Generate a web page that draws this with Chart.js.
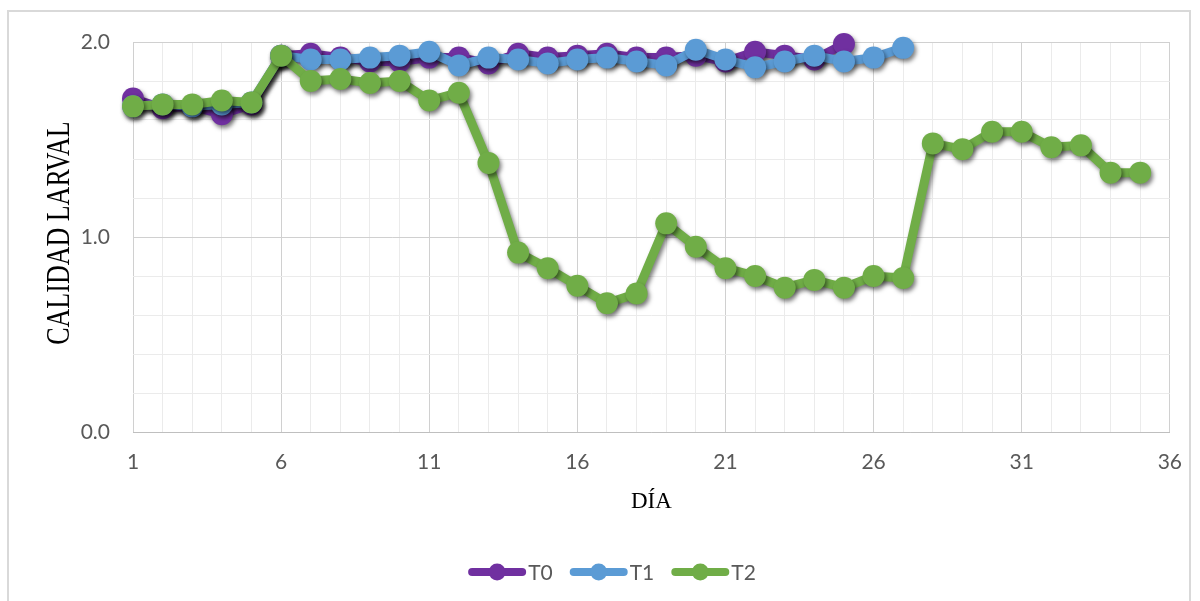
<!DOCTYPE html>
<html lang="es">
<head>
<meta charset="utf-8">
<title>Calidad larval por día</title>
<script src="https://cdn.jsdelivr.net/npm/chart.js@4.4.1/dist/chart.umd.min.js"></script>
<style>
  html, body { margin: 0; padding: 0; background: #ffffff; }
  #wrap { position: relative; width: 1200px; height: 601px; }
</style>
</head>
<body>
<div id="wrap"><canvas id="grafico" width="1200" height="601"></canvas></div>
<script>
// Días de muestreo
const dias = [1, 2, 3, 4, 5, 6, 7, 8, 9, 10, 11, 12, 13, 14, 15, 16, 17, 18,
              19, 20, 21, 22, 23, 24, 25, 26, 27, 28, 29, 30, 31, 32, 33, 34, 35];

// Calidad larval por tratamiento
const serieT0 = [1.71, 1.66, 1.67, 1.63, 1.68, 1.93, 1.94, 1.92, 1.90, 1.90, 1.92, 1.92, 1.89,
                 1.94, 1.92, 1.93, 1.94, 1.92, 1.92, 1.93, 1.90, 1.95, 1.93, 1.91, 1.99];
const serieT1 = [1.67, 1.68, 1.67, 1.68, 1.69, 1.93, 1.91, 1.91, 1.92, 1.93, 1.95, 1.88, 1.92,
                 1.91, 1.89, 1.91, 1.92, 1.90, 1.88, 1.96, 1.91, 1.87, 1.90, 1.93, 1.90, 1.92, 1.97];
const serieT2 = [1.67, 1.68, 1.68, 1.70, 1.69, 1.93, 1.80, 1.81, 1.79, 1.80, 1.70, 1.74, 1.38,
                 0.92, 0.84, 0.75, 0.66, 0.71, 1.07, 0.95, 0.84, 0.80, 0.74, 0.78, 0.74, 0.80,
                 0.79, 1.48, 1.45, 1.54, 1.54, 1.46, 1.47, 1.33, 1.33];

const nombres = ['T0', 'T1', 'T2'];
const colores = ['#7030A0', '#5B9BD5', '#70AD47'];

// Ticks de los ejes
const xMin = 1, xMax = 36, xPaso = 1, xEtiquetaCada = 5;
const yMin = 0, yMax = 2, yPaso = 0.2;

const tituloX = 'DÍA';
const tituloY = 'CALIDAD LARVAL';

const fuenteEjes = "Lato, 'Liberation Sans Narrow', sans-serif";
const fuenteTitulos = "'Liberation Serif', 'DejaVu Serif', serif";
const grisTexto = '#595959';

function puntos(valores) {
  return valores.map((v, i) => ({ x: dias[i], y: v }));
}

function dataset(i, valores, orden) {
  return {
    label: nombres[i],
    data: puntos(valores),
    borderColor: colores[i],
    backgroundColor: colores[i],
    pointBackgroundColor: colores[i],
    pointBorderColor: colores[i],
    borderWidth: 9,
    pointRadius: 11,
    pointBorderWidth: 0,
    pointHoverRadius: 11,
    tension: 0,
    clip: false,
    order: orden
  };
}

// Sombra bajo líneas y marcadores
const sombra = {
  id: 'sombra',
  beforeDatasetDraw(chart) {
    const ctx = chart.ctx;
    ctx.save();
    ctx.shadowColor = 'rgba(0,0,0,0.5)';
    ctx.shadowBlur = 4;
    ctx.shadowOffsetX = 2;
    ctx.shadowOffsetY = 3;
  },
  afterDatasetDraw(chart) {
    chart.ctx.restore();
  }
};

// Fondo blanco y marco del gráfico
const marco = {
  id: 'marco',
  beforeDraw(chart) {
    const ctx = chart.ctx;
    ctx.save();
    ctx.fillStyle = '#ffffff';
    ctx.fillRect(0, 0, chart.width, chart.height);
    ctx.strokeStyle = '#d9d9d9';
    ctx.lineWidth = 2;
    ctx.strokeRect(8, 11, 1182, 600);
    ctx.restore();
  }
};

// Título vertical del eje Y, con letras algo más altas
const tituloVertical = {
  id: 'tituloVertical',
  afterDraw(chart) {
    const ctx = chart.ctx;
    const area = chart.chartArea;
    ctx.save();
    ctx.translate(60, (area.top + area.bottom) / 2 - 4);
    ctx.rotate(-Math.PI / 2);
    ctx.scale(1, 1.3);
    ctx.font = '26px ' + fuenteTitulos;
    ctx.fillStyle = '#000000';
    ctx.textAlign = 'center';
    ctx.textBaseline = 'middle';
    ctx.fillText(tituloY, 0, 0);
    ctx.restore();
  }
};

// Leyenda con línea y marcador
const leyenda = {
  id: 'leyenda',
  afterDraw(chart) {
    const ctx = chart.ctx;
    const simbolo = 58, separacion = 2, hueco = 17, yCentro = 572, xCentro = 612;
    ctx.save();
    ctx.font = '21px ' + fuenteEjes;
    const anchos = nombres.map(n => ctx.measureText(n).width);
    const total = anchos.reduce((a, w) => a + simbolo + separacion + w, 0) + hueco * (nombres.length - 1);
    let x = xCentro - total / 2;
    nombres.forEach((n, i) => {
      ctx.strokeStyle = colores[i];
      ctx.fillStyle = colores[i];
      ctx.lineWidth = 8;
      ctx.lineCap = 'round';
      ctx.beginPath();
      ctx.moveTo(x + 4, yCentro);
      ctx.lineTo(x + simbolo - 4, yCentro);
      ctx.stroke();
      ctx.beginPath();
      ctx.arc(x + simbolo / 2, yCentro, 8.5, 0, Math.PI * 2);
      ctx.fill();
      ctx.fillStyle = grisTexto;
      ctx.textBaseline = 'middle';
      ctx.textAlign = 'left';
      ctx.fillText(n, x + simbolo + separacion, yCentro + 1);
      x += simbolo + separacion + anchos[i] + hueco;
    });
    ctx.restore();
  }
};

const esEntero = v => Math.abs(v - Math.round(v)) < 1e-6;

new Chart(document.getElementById('grafico'), {
  type: 'line',
  data: {
    datasets: [
      dataset(0, serieT0, 3),
      dataset(1, serieT1, 2),
      dataset(2, serieT2, 1)
    ]
  },
  options: {
    responsive: false,
    animation: false,
    events: [],
    layout: { padding: { left: 47, top: 42, right: 30, bottom: 81 } },
    plugins: {
      legend: { display: false },
      tooltip: { enabled: false }
    },
    scales: {
      x: {
        type: 'linear',
        min: xMin,
        max: xMax,
        afterFit(scale) { scale.height = 88; },
        ticks: {
          stepSize: xPaso,
          autoSkip: false,
          maxRotation: 0,
          padding: 18,
          color: grisTexto,
          font: { family: fuenteEjes, size: 21 },
          callback: v => ((v - xMin) % xEtiquetaCada === 0 ? String(v) : '')
        },
        grid: {
          drawTicks: false,
          lineWidth: 1,
          color: c => ((c.tick.value - xMin) % xEtiquetaCada === 0 ? '#d0d0d0' : '#ebebeb')
        },
        border: { display: true, color: '#bfbfbf', width: 1 },
        title: {
          display: true,
          text: tituloX,
          color: '#000000',
          font: { family: fuenteTitulos, size: 23 }
        }
      },
      y: {
        min: yMin,
        max: yMax,
        afterFit(scale) { scale.width = 86; },
        ticks: {
          stepSize: yPaso,
          autoSkip: false,
          padding: 23,
          color: grisTexto,
          font: { family: fuenteEjes, size: 21 },
          callback: v => (esEntero(v) ? v.toFixed(1) : '')
        },
        grid: {
          drawTicks: false,
          lineWidth: 1,
          color: c => (esEntero(c.tick.value) ? '#d0d0d0' : '#ebebeb')
        },
        border: { display: false },
        title: { display: false }
      }
    }
  },
  plugins: [marco, sombra, tituloVertical, leyenda]
});
</script>
</body>
</html>
